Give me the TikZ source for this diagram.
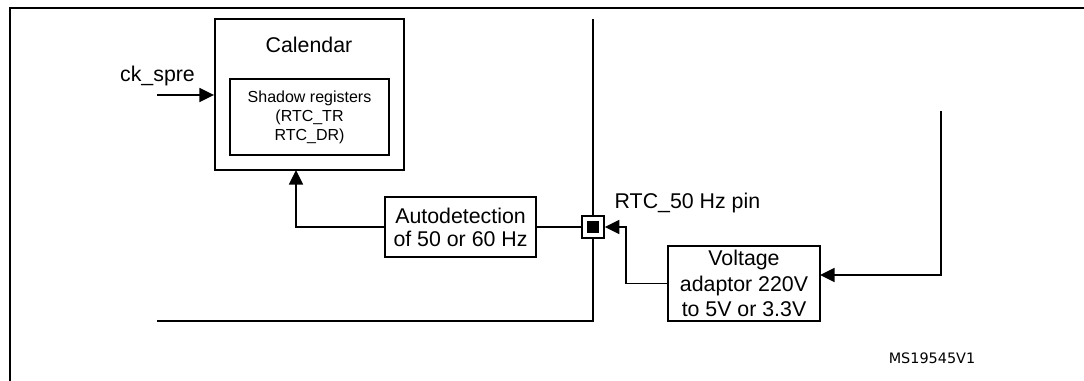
\documentclass[tikz,border=0pt]{standalone}
\usepackage{fontspec}
\setmainfont{Liberation Sans}
\newfontfamily\refcodefont{DejaVu Sans}
\usepackage{xcolor}
\usepackage{tikz}
\usetikzlibrary{arrows.meta,positioning,calc}

\tikzset{
  blockbox/.style={draw, line width=1.4pt, inner sep=0pt, align=center},
  bigtext/.style={font=\fontsize{16}{17.2}\selectfont},
  wire/.style={line width=1.3pt},
  wirearrow/.style={wire, -{Triangle[length=11pt,width=10.5pt]}},
}

\begin{document}
\begin{tikzpicture}[x=0.75pt,y=-0.75pt]
			\useasboundingbox (0,0) rectangle (1084,381);
			
			% frame
			\draw[line width=1.8pt] (10,381) -- (10,8) -- (1084,8);
			
			% calendar block
			\node[blockbox, minimum width=189*0.75pt, minimum height=151*0.75pt] (cal) at (309.5,94.5) {};
			\node[bigtext] (caltitle) at (309,45) {Calendar};
			\node[blockbox, minimum width=159*0.75pt, minimum height=76*0.75pt,
			      font=\fontsize{12}{14.3}\selectfont] (shadow) at (309.5,117)
			      {Shadow registers\\(RTC\_TR\\RTC\_DR)};
			
			% clock input
			\coordinate (ckin) at (157,95);
			\node[bigtext] (cklabel) at (157.5,76) {ck\_spre};
			\draw[wirearrow] (ckin) -- (ckin -| cal.west);
			
			% autodetection
			\node[blockbox, bigtext, minimum width=151*0.75pt, minimum height=60*0.75pt] (auto) at (460.5,227)
			      {Autodetection\\of 50 or 60 Hz};
			\coordinate (calin) at (296,170);
			\draw[wirearrow] (auto.west) -| (calin);
			
			% RTC_50Hz pin on the chip edge
			\coordinate (edgetop) at (593,19);
			\coordinate (edgebot) at (593,321);
			\coordinate (edgeend) at (157,321);
			\node[draw, line width=1.1pt, fill=white, minimum size=22*0.75pt, inner sep=0pt] (pin) at (593,227) {};
			\node[fill=black, minimum size=12*0.75pt, inner sep=0pt] (pindot) at (pin.center) {};
			\node[bigtext, anchor=west] (pinlabel) at (610,203) {RTC\_50 Hz pin};
			\draw[wire] (edgetop) -- (pin.north);
			\draw[wire] (pin.south) -- (edgebot) -- (edgeend);
			\draw[wire] (auto.east) -- (pin.west);
			
			% voltage adaptor
			\node[blockbox, minimum width=152*0.75pt, minimum height=75*0.75pt,
			      font=\fontsize{16}{19}\selectfont] (volt) at (744,283.5)
			      {Voltage\\adaptor 220V\\to 5V or 3.3V};
			\coordinate (bend) at (626,227);
			\draw[wirearrow] (volt.west) -| (bend) -- (pin.east);
			
			% mains input
			\coordinate (mains) at (941,111);
			\coordinate (voltin) at (820,275);
			\draw[wirearrow] (mains) |- (voltin);
			
			\node[font=\refcodefont\fontsize{10.8}{13}\selectfont] (figcode) at (932,358) {MS19545V1};
		\end{tikzpicture}
\end{document}
